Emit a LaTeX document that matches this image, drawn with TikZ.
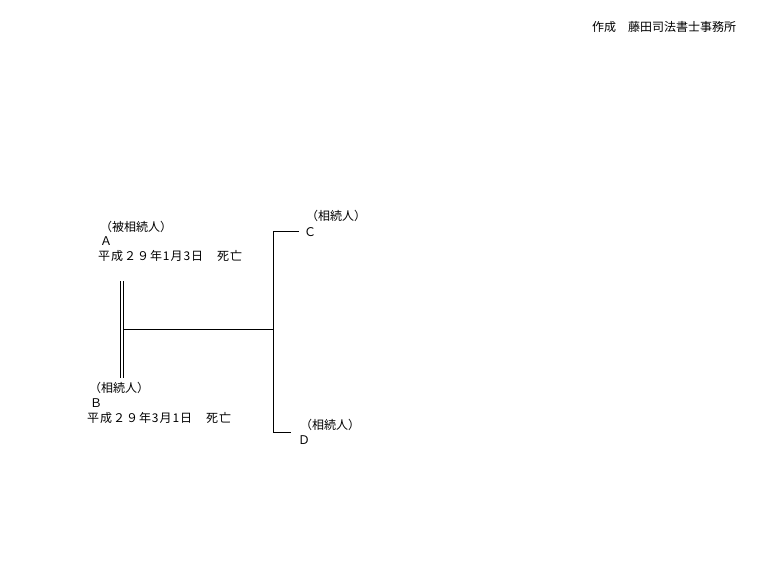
\documentclass[tikz,border=0pt]{standalone}
\usepackage{fontspec}
\setmainfont{Noto Sans CJK JP}
\newfontfamily\jp{Noto Sans CJK JP}
\newfontfamily\jpwide[LetterSpace=8]{Noto Sans CJK JP}
\begin{document}
\begin{tikzpicture}[x=1pt,y=-1pt,
  lbl/.style={anchor=west,inner sep=0pt,font=\jp\fontsize{12}{14}\selectfont},
  datelbl/.style={anchor=west,inner sep=0pt,font=\jpwide\fontsize{12}{14}\selectfont},
  ln/.style={line width=1pt,black}]
\useasboundingbox (0,0) rectangle (784,588);
% texts
\node[lbl] (author) at (592,27) {作成　藤田司法書士事務所};
\node[lbl] (aRole) at (100,227) {（被相続人）};
\node[lbl] (aName) at (100,241) {Ａ};
\node[datelbl] (aDate) at (98,256) {平成２９年1月3日　死亡};
\node[lbl] (bRole) at (89,388) {（相続人）};
\node[lbl] (bName) at (90,403) {Ｂ};
\node[datelbl] (bDate) at (87,418) {平成２９年3月1日　死亡};
\node[lbl] (cRole) at (306,216) {（相続人）};
\node[lbl] (cName) at (304,232) {Ｃ};
\node[lbl] (dRole) at (300,425) {（相続人）};
\node[lbl] (dName) at (298,440) {Ｄ};
% coordinates
\coordinate (m1t) at (120,281);
\coordinate (m1b) at (120,378);
\coordinate (m2t) at (123.5,281);
\coordinate (m2b) at (123.5,378);
\coordinate (mid) at (123.5,329);
\coordinate (jn) at (273,329);
\coordinate (vt) at (273,231);
\coordinate (vb) at (273,432);
\coordinate (ce) at (299,231);
\coordinate (de) at (291,432);
% lines
\draw[ln] (m1t) -- (m1b);
\draw[ln] (m2t) -- (m2b);
\draw[ln] (mid) -- (jn);
\draw[ln] (ce) -- (vt) -- (vb) -- (de);
\end{tikzpicture}
\end{document}
